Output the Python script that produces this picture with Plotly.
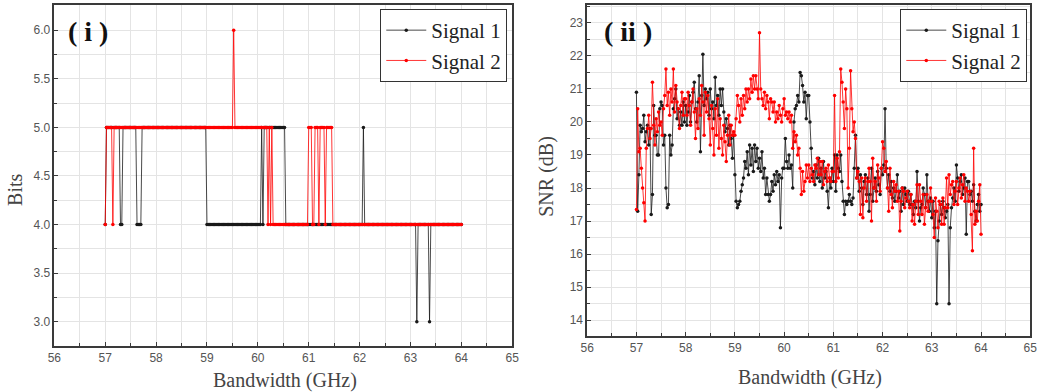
import numpy as np
import plotly.graph_objects as go

# ---------------- data ----------------
# sampling grid (GHz): 57.0 .. 64.0 step 0.025
freq_start, freq_step, n_points = 57.0, 0.025, 281
freq = [round(freq_start + freq_step * i, 3) for i in range(n_points)]

# Panel (i): bits per sub-carrier, run-length encoded (value, number of samples)
bits_sig1_runs = [(4, 1), (5, 11), (4, 2), (5, 11), (4, 4), (5, 51), (4, 43), (5, 1),
                  (4, 1), (5, 17), (4, 61), (5, 1), (4, 41), (3, 1), (4, 9), (3, 1), (4, 25)]
bits_sig2_runs = [(4, 1), (5, 5), (4, 1), (5, 94), (6, 1), (5, 26), (4, 1), (5, 1), (4, 1),
                  (5, 1), (4, 28), (5, 3), (4, 2), (5, 3), (4, 1), (5, 4), (4, 1), (5, 5), (4, 102)]

# Panel (ii): SNR (dB)
snr_sig1 = [
    20.9, 17.3, 18.4, 19.9, 19.7, 19.8, 20.2, 19.4, 19.7, 19.9,
    19.3, 19.8, 17.2, 17.8, 20.5, 19.6, 19.6, 19.0, 19.0, 20.4,
    20.6, 20.5, 19.3, 19.6, 18.0, 17.4, 17.5, 19.6, 19.0, 19.3,
    20.4, 20.7, 21.0, 20.1, 20.4, 19.9, 20.3, 19.9, 20.6, 20.0,
    20.5, 19.9, 20.3, 20.8, 20.0, 20.6, 20.9, 21.2, 20.4, 20.0,
    20.6, 21.4, 19.1, 20.8, 22.05, 20.5, 21.0, 20.7, 20.9, 20.2,
    21.0, 20.4, 20.6, 20.1, 21.35, 20.5, 20.8, 20.2, 21.0, 20.5,
    21.0, 20.3, 19.7, 20.1, 19.8, 19.3, 19.9, 19.5, 18.9, 19.6,
    18.4, 17.6, 17.4, 17.5, 17.6, 17.9, 18.1, 18.3, 18.8, 18.6,
    19.1, 18.4, 19.3, 18.7, 19.2, 18.5, 19.3, 18.8, 19.2, 18.6,
    18.9, 18.5, 19.1, 18.3, 18.6, 17.8, 18.3, 17.8, 17.6, 17.8,
    18.2, 17.9, 18.4, 18.1, 18.5, 18.2, 18.4, 16.8, 18.3, 18.6,
    18.6, 19.5, 18.8, 18.6, 19.0, 18.6, 18.7, 18.0, 20.0, 20.4,
    20.5, 20.8, 20.6, 21.5, 21.4, 21.1, 20.6, 20.9, 20.1, 20.8,
    20.8, 20.0, 19.2, 18.3, 18.5, 18.1, 18.7, 18.3, 18.9, 18.2,
    18.6, 18.0, 18.8, 18.3, 18.5, 17.9, 17.4, 18.3, 18.0, 18.6,
    18.2, 19.0, 17.9, 19.0, 18.6, 18.5, 19.0, 18.2, 17.6, 17.2,
    17.6, 17.5, 17.6, 17.8, 17.6, 17.5, 17.7, 18.6, 19.6, 18.3,
    18.6, 17.9, 18.4, 18.0, 17.5, 18.2, 18.4, 17.8, 18.3, 17.3,
    17.8, 18.6, 17.6, 18.0, 18.3, 17.9, 18.5, 18.1, 17.8, 18.6,
    18.4, 18.7, 20.4, 18.6, 18.0, 18.4, 17.9, 18.2, 17.7, 18.0,
    17.6, 17.9, 18.4, 17.7, 17.9, 17.3, 18.0, 17.5, 18.0, 17.8,
    17.6, 17.9, 17.5, 17.8, 17.5, 17.2, 17.6, 17.4, 18.5, 17.6,
    17.0, 17.4, 17.5, 18.0, 17.8, 17.4, 18.4, 17.6, 17.3, 17.7,
    17.1, 17.6, 16.8, 17.3, 14.5, 16.4, 17.0, 17.5, 17.2, 17.6,
    17.4, 17.1, 17.3, 17.5, 14.5, 16.8, 17.4, 17.7, 18.0, 17.6,
    18.7, 18.3, 17.9, 18.2, 18.4, 17.8, 18.0, 18.3, 16.6, 18.2,
    18.2, 17.8, 17.9, 17.6, 18.1, 17.3, 17.0, 17.5, 17.8, 17.3,
    17.5,
]
snr_sig2 = [
    17.35, 20.4, 19.1, 19.2, 18.6, 18.0, 17.55, 17.0, 19.2, 19.8,
    20.2, 19.5, 19.8, 21.2, 19.9, 19.3, 20.1, 19.7, 20.3, 19.9,
    20.0, 19.6, 20.4, 20.8, 21.6, 20.5, 20.9, 20.2, 21.0, 20.6,
    21.6, 20.3, 21.1, 20.6, 20.4, 19.8, 20.5, 20.9, 20.2, 20.7,
    20.7, 20.2, 20.9, 20.5, 19.9, 20.6, 21.0, 20.3, 19.5, 20.4,
    19.8, 20.7, 20.2, 21.1, 20.6, 19.6, 20.9, 20.3, 20.8, 20.1,
    19.3, 20.5, 19.8, 19.0, 20.4, 19.6, 20.7, 19.2, 20.1, 19.5,
    19.0, 19.9, 19.4, 18.8, 19.6, 20.2, 19.3, 19.9, 19.6, 19.7,
    19.6, 20.1, 20.8, 20.5, 20.0, 20.7, 20.2, 20.8, 20.4, 21.0,
    20.6, 21.0, 20.7, 21.3, 20.9, 21.4, 21.0, 21.4, 21.0, 20.7,
    22.7, 21.0, 20.7, 20.5, 20.9, 20.4, 20.8, 20.6, 20.1, 20.7,
    20.6, 20.3, 20.6, 20.0, 20.3, 20.1, 20.5, 20.2, 20.0, 20.4,
    20.7, 20.2, 20.3, 20.1, 20.3, 20.0, 20.2, 19.2, 19.7, 19.4,
    19.6, 19.0, 19.2, 18.6, 17.8, 18.5, 17.9, 18.2, 18.7, 18.3,
    18.7, 18.2, 18.6, 18.4, 18.2, 18.7, 18.6, 18.9, 18.4, 18.8,
    18.4, 18.8, 18.1, 18.5, 18.6, 18.2, 18.7, 18.3, 18.2, 18.5,
    18.5, 20.8, 18.2, 18.9, 18.3, 19.1, 21.6, 21.2, 20.6, 19.8,
    21.0, 20.4, 18.0, 19.2, 21.55, 20.4, 19.7, 20.0, 19.5, 18.3,
    18.5, 18.2, 17.2, 18.3, 17.1, 18.0, 18.3, 17.6, 18.2, 18.6,
    18.2, 17.0, 18.9, 18.0, 18.2, 17.6, 18.7, 18.3, 17.9, 18.6,
    19.4, 19.2, 18.5, 18.8, 18.0, 17.3, 18.6, 17.8, 17.4, 18.2,
    17.9, 18.1, 17.6, 17.9, 16.7, 17.6, 18.0, 17.9, 17.4, 17.7,
    17.9, 17.6, 17.4, 17.8, 17.0, 17.5, 16.9, 17.6, 18.1, 17.2,
    18.1, 17.6, 17.2, 17.8, 16.9, 17.4, 17.8, 17.3, 17.6, 18.0,
    17.6, 17.2, 16.5, 17.7, 17.3, 16.8, 17.6, 17.5, 16.9, 17.7,
    16.9, 17.4, 18.3, 17.4, 18.4, 17.8, 18.1, 18.2, 17.5, 17.9,
    18.2, 17.5, 18.0, 18.3, 17.7, 18.1, 18.4, 17.6, 18.0, 17.9,
    17.6, 17.9, 17.2, 16.1, 19.2, 16.9, 17.3, 17.0, 17.6, 18.1,
    16.6,
]

series_names = ["Signal 1", "Signal 2"]
x_ticks = [56, 57, 58, 59, 60, 61, 62, 63, 64, 65]
bits_ticks = [3.0, 3.5, 4.0, 4.5, 5.0, 5.5, 6.0]
snr_ticks = [14, 15, 16, 17, 18, 19, 20, 21, 22, 23]


def expand(runs):
    out = []
    for val, cnt in runs:
        out.extend([val] * cnt)
    return out


bits_sig1 = expand(bits_sig1_runs)
bits_sig2 = expand(bits_sig2_runs)

# ---------------- figure ----------------
W, H = 1056, 392
SERIF = "Liberation Serif"
SANS = "Liberation Sans"
colors = ["#1a1a1a", "#ff0000"]

fig = go.Figure()

for name, ys, col in zip(series_names, [bits_sig1, bits_sig2], colors):
    fig.add_trace(go.Scatter(
        x=freq, y=ys, name=name, mode="lines+markers",
        line=dict(color=col, width=0.8),
        marker=dict(color=col, size=3.5),
        xaxis="x", yaxis="y", legend="legend"))

for name, ys, col in zip(series_names, [snr_sig1, snr_sig2], colors):
    fig.add_trace(go.Scatter(
        x=freq, y=ys, name=name, mode="lines+markers",
        line=dict(color=col, width=0.8),
        marker=dict(color=col, size=3.5),
        xaxis="x2", yaxis="y2", legend="legend2"))


def px_x(p):
    return p / W


def px_y(p):
    return 1 - p / H


axis_common = dict(
    showline=True, mirror=True, linecolor="#3a3a3a", linewidth=1.5,
    ticks="inside", ticklen=4, tickcolor="#3a3a3a", tickwidth=1,
    showgrid=True, gridcolor="#e4e4e4", gridwidth=1,
    zeroline=False,
    tickfont=dict(family=SANS, size=12, color="#555555"),
)

legend_font = dict(family=SERIF, size=21, color="#222222")

fig.update_layout(
    width=W, height=H,
    margin=dict(l=0, r=0, t=0, b=0),
    font=dict(family=SERIF, size=21, color="#222222"),
    paper_bgcolor="white", plot_bgcolor="white",
    xaxis=dict(axis_common, domain=[px_x(48), px_x(512)], range=[56, 65],
               tickvals=x_ticks, anchor="y",
               minor=dict(dtick=0.5, ticks="inside", ticklen=3, tickcolor="#3a3a3a",
                          showgrid=True, gridcolor="#e4e4e4")),
    yaxis=dict(axis_common, domain=[px_y(346), px_y(5)], range=[2.75, 6.26],
               tickvals=bits_ticks, tickformat=".1f", anchor="x",
               minor=dict(dtick=0.25, tick0=0, ticks="inside", ticklen=3, tickcolor="#3a3a3a",
                          showgrid=True, gridcolor="#e4e4e4")),
    xaxis2=dict(axis_common, domain=[px_x(588), px_x(1037)], range=[56, 65],
                tickvals=x_ticks, anchor="y2",
                minor=dict(dtick=0.5, ticks="inside", ticklen=3, tickcolor="#3a3a3a",
                           showgrid=True, gridcolor="#e4e4e4")),
    yaxis2=dict(axis_common, domain=[px_y(336), px_y(5)], range=[13.52, 23.54],
                tickvals=snr_ticks, anchor="x2",
                minor=dict(dtick=0.5, tick0=0, ticks="inside", ticklen=3, tickcolor="#3a3a3a",
                           showgrid=True, gridcolor="#e4e4e4")),
    legend=dict(x=px_x(507), y=px_y(9), xanchor="right", yanchor="top",
                bgcolor="white", bordercolor="#333333", borderwidth=1,
                font=legend_font, tracegroupgap=0, itemwidth=40),
    legend2=dict(x=px_x(1034), y=px_y(9), xanchor="right", yanchor="top",
                 bgcolor="white", bordercolor="#333333", borderwidth=1,
                 font=legend_font, tracegroupgap=0, itemwidth=40),
    showlegend=True,
)

annos = [
    dict(text="<b>( i )</b>", x=px_x(82), y=px_y(32), font=dict(family=SERIF, size=28, color="#111111")),
    dict(text="<b>( ii )</b>", x=px_x(629), y=px_y(32), font=dict(family=SERIF, size=28, color="#111111")),
    dict(text="Bits", x=px_x(8), y=px_y(190), textangle=-90, font=dict(family=SERIF, size=20, color="#444444")),
    dict(text="SNR (dB)", x=px_x(546), y=px_y(176), textangle=-90, font=dict(family=SERIF, size=20, color="#444444")),
    dict(text="Bandwidth (GHz)", x=px_x(282), y=px_y(380), font=dict(family=SERIF, size=20, color="#444444")),
    dict(text="Bandwidth (GHz)", x=px_x(814), y=px_y(377), font=dict(family=SERIF, size=20, color="#444444")),
]
for a in annos:
    fig.add_annotation(xref="paper", yref="paper", showarrow=False,
                       xanchor="center", yanchor="middle", **a)

fig.write_html("out.html")
